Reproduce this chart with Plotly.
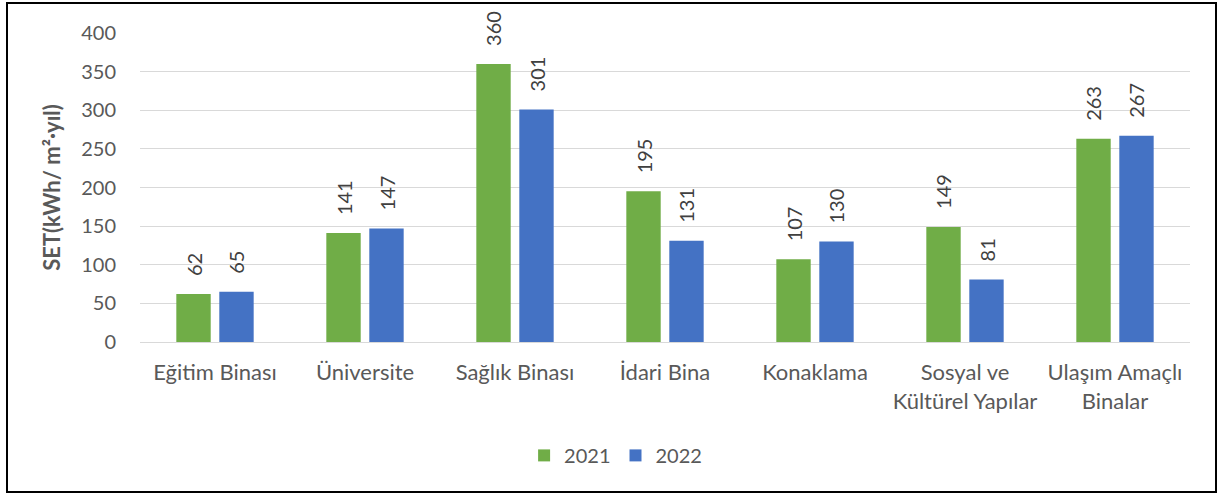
import plotly.graph_objects as go

categories = ["Eğitim Binası", "Üniversite", "Sağlık Binası", "İdari Bina", "Konaklama",
              "Sosyal ve<br>Kültürel Yapılar", "Ulaşım Amaçlı<br>Binalar"]
values_2021 = [62, 141, 360, 195, 107, 149, 263]
values_2022 = [65, 147, 301, 131, 130, 81, 267]
y_ticks = [0, 50, 100, 150, 200, 250, 300, 350, 400]

FONT = "Lato, Carlito, Calibri, sans-serif"
W, H = 1219, 495
ml, mr, mt, mb = 140, 29, 33, 153
pw, ph = W - ml - mr, H - mt - mb
BARGAP, GROUPGAP = 0.427, 0.2
slot_px = pw / len(categories) * (1 - BARGAP) / 2

fig = go.Figure()
series = [("2021", values_2021, "#70AD47", -slot_px / 2), ("2022", values_2022, "#4472C4", slot_px / 2)]
for name, vals, color, shift in series:
    fig.add_trace(go.Bar(
        x=categories, y=vals, name=name, marker=dict(color=color, line=dict(width=0)),
        hoverinfo="x+y+name",
    ))
    for c, v in zip(categories, vals):
        fig.add_annotation(x=c, y=v, text=str(v), showarrow=False, textangle=-90,
                           xshift=shift, yshift=16, yanchor="bottom", xanchor="center",
                           font=dict(family=FONT, size=20, color="#404040"))

def px_to_paper_x(px):
    return (px - ml) / pw

def px_to_paper_y(py):
    return (H - mb - py) / ph

fig.update_layout(
    width=W, height=H,
    margin=dict(l=ml, r=mr, t=mt, b=mb, autoexpand=False),
    plot_bgcolor="white", paper_bgcolor="white",
    barmode="group", bargap=BARGAP, bargroupgap=GROUPGAP,
    font=dict(family=FONT, size=20, color="#595959"),
    xaxis=dict(showgrid=False, showline=False, ticks="", ticklabelstandoff=15,
               tickfont=dict(size=22, color="#595959")),
    yaxis=dict(range=[0, 400], tickvals=y_ticks, showgrid=True, gridcolor="#D9D9D9", gridwidth=1,
               zeroline=True, zerolinecolor="#D9D9D9", zerolinewidth=1,
               ticks="", ticklabelstandoff=23, tickfont=dict(size=20, color="#595959"),
               title=dict(text="<b>SET(kWh/ m²·yıl)</b>", font=dict(size=22, color="#595959"), standoff=14)),
    legend=dict(orientation="h", xref="container", yref="container", x=0.505, y=0.08,
                xanchor="center", yanchor="middle", font=dict(size=20, color="#595959"),
                itemwidth=30, traceorder="normal"),
    shapes=[dict(type="rect", xref="paper", yref="paper",
                 x0=px_to_paper_x(7), x1=px_to_paper_x(1216),
                 y0=px_to_paper_y(492), y1=px_to_paper_y(3),
                 line=dict(color="black", width=2), fillcolor="rgba(0,0,0,0)", layer="below")],
)

fig.write_html("out.html", config={"displayModeBar": False},
               post_script="document.body.style.margin='0';")
